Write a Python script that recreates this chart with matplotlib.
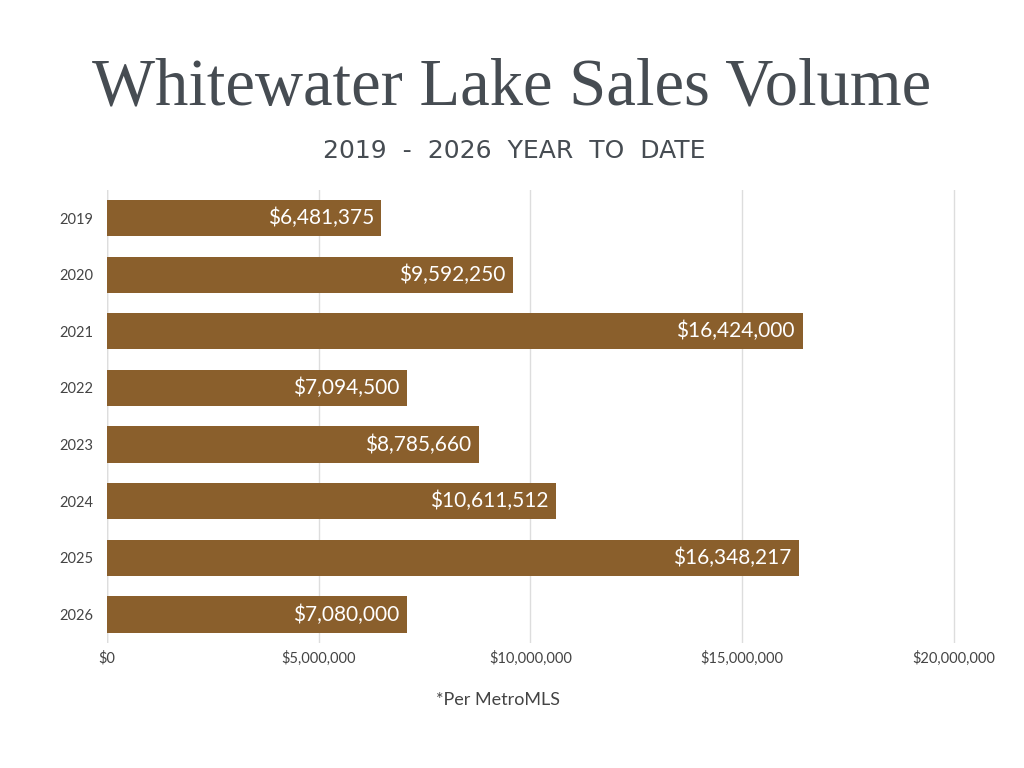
import matplotlib
matplotlib.use("Agg")
import matplotlib.pyplot as plt
from matplotlib.ticker import FuncFormatter

years = ["2019", "2020", "2021", "2022", "2023", "2024", "2025", "2026"]
volumes = [6481375, 9592250, 16424000, 7094500, 8785660, 10611512, 16348217, 7080000]
x_ticks = [0, 5000000, 10000000, 15000000, 20000000]

bar_color = "#8a5f2c"
text_color = "#464c52"

fig = plt.figure(figsize=(10.24, 7.68), dpi=100)
ax = fig.add_axes([0.1045, 0.163, 0.83, 0.59])

ypos = list(range(len(years)))
bars = ax.barh(ypos, volumes, height=0.64, color=bar_color, zorder=2)
for b, v in zip(bars, volumes):
    ax.text(v - 180000, b.get_y() + b.get_height() / 2, f"${v:,}",
            ha="right", va="center", color="white", fontsize=15,
            family="Lato", zorder=3)

ax.set_xlim(0, 20070000)
ax.set_ylim(len(years) - 0.5, -0.5)
ax.set_yticks(ypos)
ax.set_yticklabels(years)
ax.set_xticks(x_ticks)
ax.xaxis.set_major_formatter(FuncFormatter(lambda v, p: f"${v:,.0f}"))
ax.tick_params(axis="both", length=0, labelsize=10.5, labelcolor="#444444")
ax.tick_params(axis="y", pad=10)
ax.tick_params(axis="x", pad=6)
for lab in ax.get_xticklabels() + ax.get_yticklabels():
    lab.set_family("Lato")
ax.grid(axis="x", color="#dddddd", linewidth=1, zorder=0)
for s in ax.spines.values():
    s.set_visible(False)
ax.axvline(0, color="#cccccc", linewidth=1, zorder=1)

fig.text(0.500, 0.885, "Whitewater Lake Sales Volume", ha="center", va="center",
         fontsize=48, family="Liberation Serif", color=text_color)
fig.text(0.502, 0.803, "2019  -  2026  YEAR  TO  DATE", ha="center", va="center",
         fontsize=18, family="DejaVu Sans", color=text_color)
fig.text(0.486, 0.088, "*Per MetroMLS", ha="center", va="center",
         fontsize=13, family="Lato", color="#444444")

fig.savefig("out.png", dpi=100, facecolor="white")
